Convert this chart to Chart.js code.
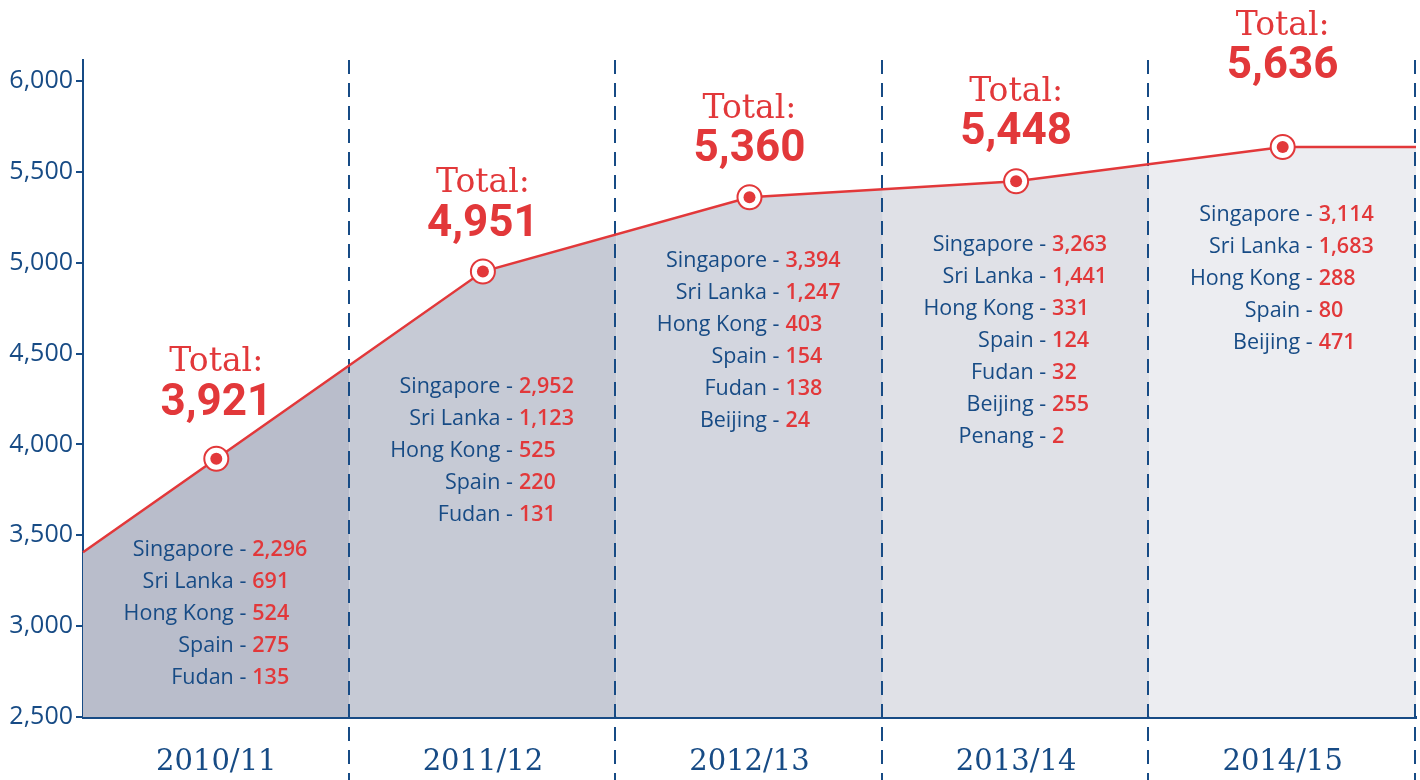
<!DOCTYPE html>
<html>
<head>
<meta charset="utf-8">
<script src="https://cdn.jsdelivr.net/npm/chart.js@4.4.1/dist/chart.umd.min.js"></script>
<style>
  html, body { margin: 0; padding: 0; background: #ffffff; overflow: hidden; }
  #wrap { width: 1420px; height: 780px; position: relative; }
</style>
</head>
<body>
<div id="wrap"><canvas id="student_totals_chart"></canvas></div>
<script>
var years = ['2010/11', '2011/12', '2012/13', '2013/14', '2014/15'];
var totals = [3921, 4951, 5360, 5448, 5636];
var y_ticks = [2500, 3000, 3500, 4000, 4500, 5000, 5500, 6000];

// breakdown by campus, null = not listed that year
var campus_names = ['Singapore', 'Sri Lanka', 'Hong Kong', 'Spain', 'Fudan', 'Beijing', 'Penang'];
var singapore = [2296, 2952, 3394, 3263, 3114];
var sri_lanka = [691, 1123, 1247, 1441, 1683];
var hong_kong = [524, 525, 403, 331, 288];
var spain = [275, 220, 154, 124, 80];
var fudan = [135, 131, 138, 32, null];
var beijing = [null, null, 24, 255, 471];
var penang = [null, null, null, 2, null];
var campus_values = [singapore, sri_lanka, hong_kong, spain, fudan, beijing, penang];

var blue = '#174b85';
var red = '#e2383a';
var band_colors = ['#b9bdcb', '#c6cad5', '#d3d6df', '#e0e1e7', '#ecedf1'];
// label placement (pixels relative to each point)
var total_offset = [55, 47, 47, 48, 80];
var list_offset = [91, 115, 64, 64, 68];

var fmt = function(v) { return v.toLocaleString('en-US'); };

var bandPlugin = {
    id: 'bands',
    beforeDatasetsDraw: function(chart) {
        var ctx = chart.ctx, xs = chart.scales.x, ys = chart.scales.y, area = chart.chartArea;
        var pts = totals.map(function(v, i) { return {x: xs.getPixelForValue(i), y: ys.getPixelForValue(v)}; });
        var n = pts.length;
        var left = {x: area.left, y: pts[0].y + (pts[0].y - pts[1].y) * (pts[0].x - area.left) / (pts[1].x - pts[0].x)};
        var right = {x: area.right, y: pts[n - 1].y};
        var bottom = ys.getPixelForValue(2500);

        ctx.save();
        ctx.beginPath();
        ctx.moveTo(area.left, bottom);
        ctx.lineTo(left.x, left.y);
        pts.forEach(function(p) { ctx.lineTo(p.x, p.y); });
        ctx.lineTo(right.x, right.y);
        ctx.lineTo(area.right, bottom);
        ctx.closePath();
        ctx.clip();
        for (var i = 0; i < n; i++) {
            var x0 = xs.getPixelForValue(i - 0.5), x1 = xs.getPixelForValue(i + 0.5);
            ctx.fillStyle = band_colors[i];
            ctx.fillRect(x0, area.top, x1 - x0, bottom - area.top);
        }
        ctx.restore();

        // line extensions to the edges
        ctx.save();
        ctx.strokeStyle = red;
        ctx.lineWidth = 2.5;
        ctx.beginPath();
        ctx.moveTo(left.x, left.y);
        ctx.lineTo(pts[0].x, pts[0].y);
        ctx.moveTo(pts[n - 1].x, pts[n - 1].y);
        ctx.lineTo(right.x, right.y);
        ctx.stroke();

        // dashed dividers
        ctx.strokeStyle = blue;
        ctx.lineWidth = 2;
        ctx.setLineDash([14, 9]);
        for (var k = 1; k <= n; k++) {
            var xd = Math.round(xs.getPixelForValue(k - 0.5)) - 1;
            ctx.beginPath();
            ctx.moveTo(xd, area.top);
            ctx.lineTo(xd, chart.height);
            ctx.stroke();
        }
        ctx.restore();
    },
    afterDatasetsDraw: function(chart) {
        var ctx = chart.ctx, xs = chart.scales.x, ys = chart.scales.y;
        ctx.save();
        totals.forEach(function(v, i) {
            var px = xs.getPixelForValue(i), py = ys.getPixelForValue(v);
            ctx.fillStyle = red;
            ctx.textAlign = 'center';
            ctx.textBaseline = 'middle';
            ctx.font = 'bold 44px Roboto, "Liberation Sans", sans-serif';
            ctx.fillText(fmt(v), px, py - total_offset[i]);
            ctx.font = '33px "DejaVu Serif", serif';
            ctx.fillText('Total:', px, py - total_offset[i] - 41);

            var ly = py + list_offset[i];
            campus_names.forEach(function(name, c) {
                var val = campus_values[c][i];
                if (val === null) return;
                ctx.textAlign = 'right';
                ctx.fillStyle = blue;
                ctx.font = '21.5px "Open Sans", sans-serif';
                ctx.fillText(name + ' -', px + 30, ly);
                ctx.textAlign = 'left';
                ctx.fillStyle = red;
                ctx.font = '600 21.5px "Open Sans", sans-serif';
                ctx.fillText(fmt(val), px + 36, ly);
                ly += 32;
            });
        });
        ctx.restore();
    }
};

const config = {
    type: 'line',
    data: {
        datasets: [{
            data: totals.map(function(v, i) { return {x: i, y: v}; }),
            order: 2,
            borderColor: red,
            borderWidth: 2.5,
            pointRadius: 12,
            pointBorderWidth: 2,
            pointBackgroundColor: '#ffffff',
            pointBorderColor: red,
            fill: false,
            tension: 0,
        }, {
            data: totals.map(function(v, i) { return {x: i, y: v}; }),
            order: 1,
            showLine: false,
            pointRadius: 6,
            pointBorderWidth: 0,
            pointBackgroundColor: red,
        }]
    },
    options: {
        responsive: false,
        animation: false,
        layout: {autoPadding: false, padding: {top: 60, right: 4, left: 0, bottom: 0}},
        plugins: {legend: {display: false}, tooltip: {enabled: false}},
        scales: {
            x: {
                type: 'linear',
                min: -0.5,
                max: 4.5,
                afterBuildTicks: function(scale) {
                    scale.ticks = years.map(function(y, i) { return {value: i}; });
                },
                afterFit: function(scale) {
                    scale.height = 63;
                    scale.paddingLeft = 0;
                    scale.paddingRight = 0;
                },
                grid: {display: false},
                border: {color: blue, width: 3},
                ticks: {
                    callback: function(v) { return years[v]; },
                    color: blue,
                    font: {family: '"DejaVu Serif"', size: 29},
                    padding: 20,
                    maxRotation: 0,
                },
            },
            y: {
                min: 2500,
                max: 6115,
                afterBuildTicks: function(scale) {
                    scale.ticks = y_ticks.map(function(v) { return {value: v}; });
                },
                afterFit: function(scale) { scale.width = 83; },
                grid: {drawOnChartArea: false, color: blue, lineWidth: 2, tickLength: 7},
                border: {color: blue, width: 2},
                ticks: {
                    callback: function(v) { return fmt(v); },
                    color: blue,
                    font: {family: '"Open Sans"', size: 25},
                    padding: 3,
                },
            }
        }
    },
    plugins: [bandPlugin]
};

const canvas = document.getElementById('student_totals_chart');
canvas.width = 1420;
canvas.height = 780;
const myChart = new Chart(canvas, config);
</script>
</body>
</html>
